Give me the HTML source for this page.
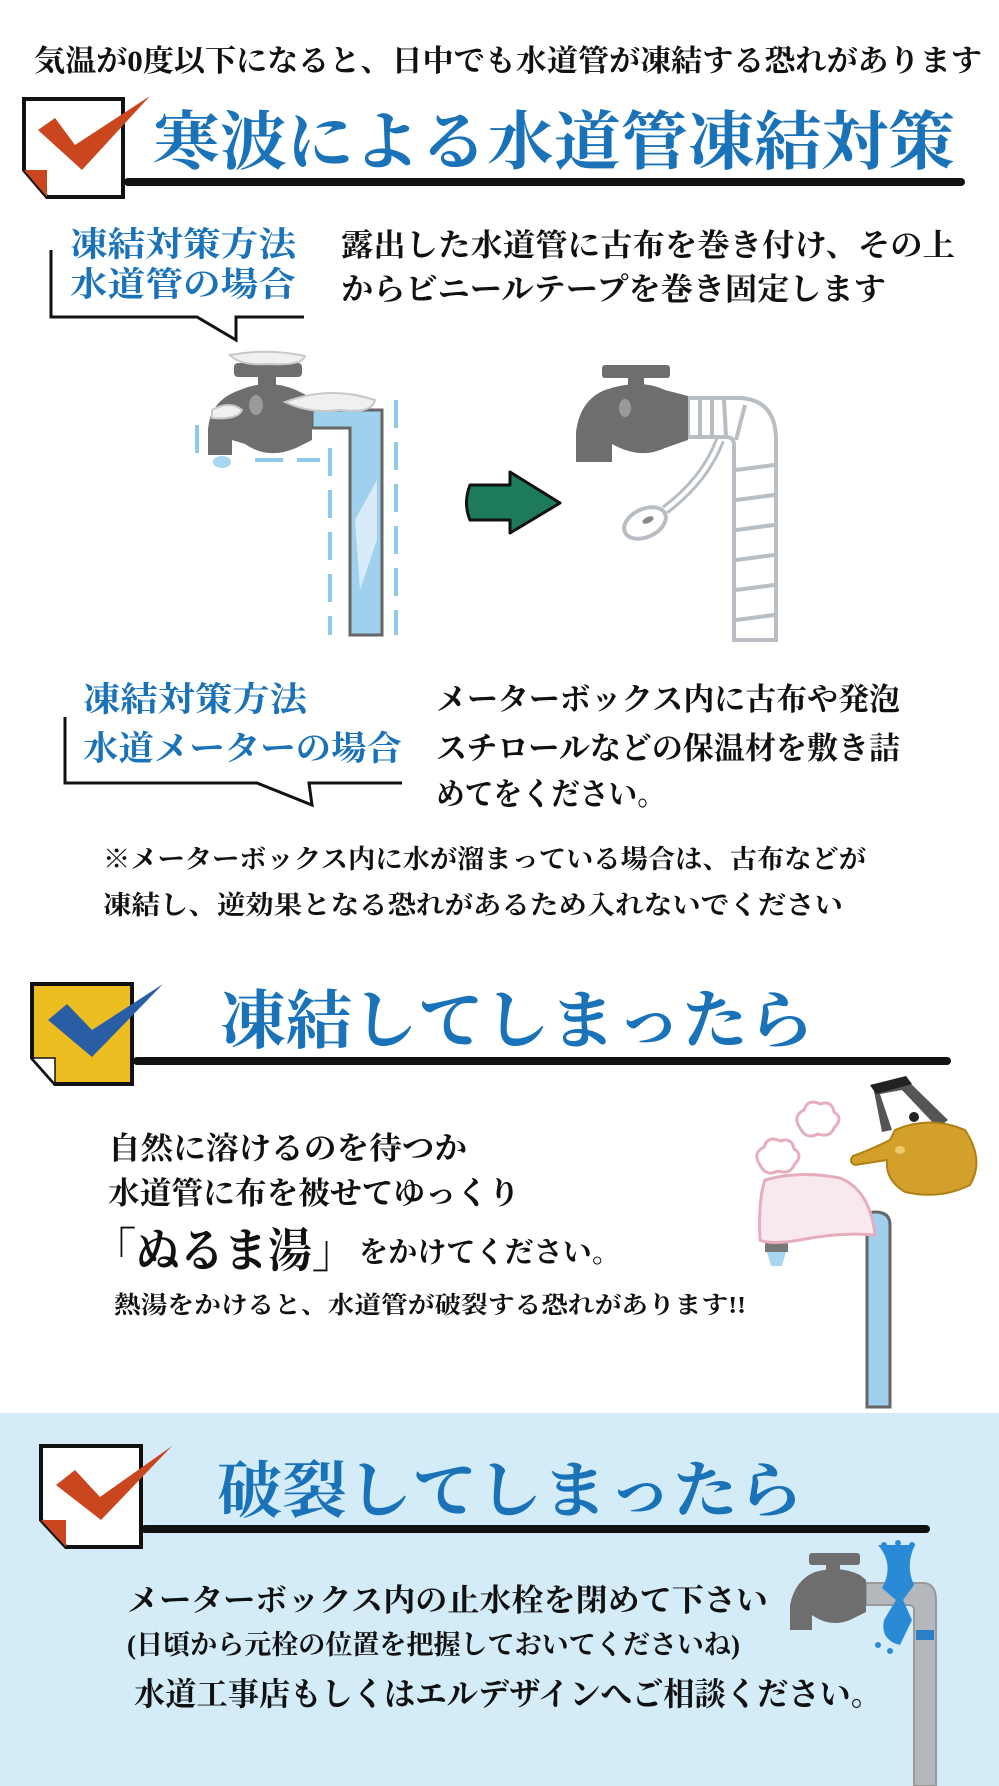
<!DOCTYPE html>
<html><head><meta charset="utf-8"><style>
html,body{margin:0;padding:0;background:#fff}
svg{display:block}
text{font-family:"Liberation Serif","Noto Serif CJK JP",serif;font-weight:bold}
</style></head><body>
<svg width="999" height="1786" viewBox="0 0 999 1786" xmlns="http://www.w3.org/2000/svg">
<rect x="0" y="0" width="999" height="1786" fill="#fff"/>
<rect x="0" y="1413" width="999" height="373" fill="#d3ecf8"/>

<!-- top text -->
<text x="34" y="71" font-size="30" textLength="948" lengthAdjust="spacingAndGlyphs" fill="#111">気温が0度以下になると、日中でも水道管が凍結する恐れがあります</text>

<!-- header 1 -->
<rect x="124" y="178" width="841" height="8" rx="4" fill="#111"/>
<path d="M24 99 H123 V197 H47 L24 170 Z" fill="#fff" stroke="#111" stroke-width="4"/>
<path d="M24 170 L47 170 L47 197 Z" fill="#c9461e"/>
<path d="M38 130 L55 118 L75 145 L150 96 L82 170 Z" fill="#c9461e"/>
<text x="153" y="164" font-size="64" textLength="802" lengthAdjust="spacingAndGlyphs" fill="#1a72b8">寒波による水道管凍結対策</text>

<!-- bubble 1 -->
<path d="M51 250 V317 H197 L236 340 V317 H304" fill="none" stroke="#111" stroke-width="3"/>
<text x="70" y="256" font-size="34" textLength="226" lengthAdjust="spacingAndGlyphs" fill="#1a72b8">凍結対策方法</text>
<text x="70" y="296" font-size="34" textLength="226" lengthAdjust="spacingAndGlyphs" fill="#1a72b8">水道管の場合</text>
<text x="341" y="256" font-size="31" textLength="614" lengthAdjust="spacingAndGlyphs" fill="#111">露出した水道管に古布を巻き付け、その上</text>
<text x="341" y="300" font-size="31" textLength="545" lengthAdjust="spacingAndGlyphs" fill="#111">からビニールテープを巻き固定します</text>

<!-- frozen faucet -->
<g>
<path d="M312 410 H382 V635 H350 V428 H312 Z" fill="#9fd0ee" stroke="#666" stroke-width="3"/>
<path d="M355 520 L377 480 V540 L360 590 Z" fill="#d7ecf8"/>
<rect x="234" y="363" width="68" height="14" rx="4" fill="#6e6e6e"/>
<rect x="258" y="375" width="18" height="14" fill="#6e6e6e"/>
<path d="M240 390 Q268 378 296 390 L312 398 V440 L296 448 Q268 460 245 444 L232 440 V455 H208 V430 Q210 400 240 390 Z" fill="#6e6e6e"/>
<ellipse cx="256" cy="405" rx="7" ry="10" fill="#9a9a9a"/>
<path d="M230 355 Q268 348 305 356 Q302 366 268 364 Q240 366 230 355 Z" fill="#eef0f2" stroke="#c8c8c8" stroke-width="2"/>
<path d="M285 402 Q330 385 375 400 Q372 414 340 410 Q310 414 285 402 Z" fill="#eef0f2" stroke="#c8c8c8" stroke-width="2"/>
<path d="M212 410 Q230 400 242 410 Q238 420 212 418 Z" fill="#eef0f2" stroke="#c8c8c8" stroke-width="2"/>
<ellipse cx="222" cy="462" rx="9" ry="6" fill="#a8d6f0"/>
<g stroke="#8ec8ea" stroke-width="4" stroke-dasharray="28 14" fill="none">
<path d="M396 400 V635"/><path d="M330 448 V635"/><path d="M197 425 V460"/><path d="M255 460 H320"/>
</g>
</g>

<!-- arrow -->
<path d="M470 485 H510 V472 L560 503 L510 533 V520 H470 Q463 503 470 485 Z" fill="#1d7b5c" stroke="#111" stroke-width="3" stroke-linejoin="round"/>

<!-- wrapped faucet -->
<g>
<path d="M688 398 H740 Q776 400 776 440 V640 H734 V445 Q734 437 726 437 H688 Z" fill="#fff" stroke="#b8bec4" stroke-width="4"/>
<g stroke="#b8bec4" stroke-width="4">
<line x1="736" y1="470" x2="774" y2="465"/><line x1="736" y1="500" x2="774" y2="495"/><line x1="736" y1="530" x2="774" y2="525"/><line x1="736" y1="560" x2="774" y2="555"/><line x1="736" y1="590" x2="774" y2="585"/><line x1="736" y1="620" x2="774" y2="615"/>
<line x1="700" y1="400" x2="700" y2="436"/><line x1="712" y1="400" x2="712" y2="436"/><line x1="724" y1="400" x2="726" y2="436"/><line x1="745" y1="405" x2="736" y2="440"/>
</g>
<path d="M720 440 Q705 480 665 510" fill="none" stroke="#b8bec4" stroke-width="10"/>
<path d="M720 440 Q705 480 665 510" fill="none" stroke="#fff" stroke-width="4"/>
<ellipse cx="645" cy="523" rx="22" ry="14" transform="rotate(-25 645 523)" fill="#fff" stroke="#b8bec4" stroke-width="4"/>
<ellipse cx="648" cy="520" rx="6" ry="3" transform="rotate(-25 648 520)" fill="#888"/>
<rect x="602" y="365" width="68" height="13" rx="3" fill="#6e6e6e"/>
<rect x="628" y="376" width="16" height="12" fill="#6e6e6e"/>
<path d="M605 390 Q640 378 665 390 L688 396 V440 L665 448 Q640 460 612 444 V462 H576 V432 Q580 400 605 390 Z" fill="#6e6e6e"/>
<ellipse cx="625" cy="408" rx="6" ry="9" fill="#9a9a9a"/>
</g>

<!-- bubble 2 -->
<path d="M65 717 V783 H257 L312 805 L309 783 H402" fill="none" stroke="#111" stroke-width="3"/>
<text x="83" y="711" font-size="34" textLength="224" lengthAdjust="spacingAndGlyphs" fill="#1a72b8">凍結対策方法</text>
<text x="83" y="760" font-size="34" textLength="319" lengthAdjust="spacingAndGlyphs" fill="#1a72b8">水道メーターの場合</text>
<text x="436" y="710" font-size="31" textLength="464" lengthAdjust="spacingAndGlyphs" fill="#111">メーターボックス内に古布や発泡</text>
<text x="436" y="759" font-size="31" textLength="464" lengthAdjust="spacingAndGlyphs" fill="#111">スチロールなどの保温材を敷き詰</text>
<text x="436" y="805" font-size="31" textLength="230" lengthAdjust="spacingAndGlyphs" fill="#111">めてをください。</text>
<text x="103" y="868" font-size="26" textLength="763" lengthAdjust="spacingAndGlyphs" fill="#111">※メーターボックス内に水が溜まっている場合は、古布などが</text>
<text x="103" y="914" font-size="26" textLength="740" lengthAdjust="spacingAndGlyphs" fill="#111">凍結し、逆効果となる恐れがあるため入れないでください</text>

<!-- header 2 -->
<rect x="133" y="1057" width="818" height="8" rx="4" fill="#111"/>
<path d="M32 984 H132 V1084 H55 L32 1058 Z" fill="#ecbe22" stroke="#111" stroke-width="4"/>
<path d="M32 1058 L55 1058 L55 1084 Z" fill="#fff" stroke="#111" stroke-width="1.5"/>
<path d="M48 1020 L67 1004 L92 1030 L163 984 L92 1057 Z" fill="#2a5ea4"/>
<text x="220" y="1043" font-size="64" textLength="594" lengthAdjust="spacingAndGlyphs" fill="#1a72b8">凍結してしまったら</text>

<text x="108" y="1159" font-size="31" textLength="359" lengthAdjust="spacingAndGlyphs" fill="#111">自然に溶けるのを待つか</text>
<text x="108" y="1204" font-size="31" textLength="412" lengthAdjust="spacingAndGlyphs" fill="#111">水道管に布を被せてゆっくり</text>
<text x="92" y="1267" font-size="47" textLength="264" lengthAdjust="spacingAndGlyphs" fill="#111">「ぬるま湯」</text>
<text x="359" y="1262" font-size="29" textLength="262" lengthAdjust="spacingAndGlyphs" fill="#111">をかけてください。</text>
<text x="114" y="1313" font-size="24" textLength="632" lengthAdjust="spacingAndGlyphs" fill="#111">熱湯をかけると、水道管が破裂する恐れがあります!!</text>

<!-- kettle illustration -->
<g>
<path d="M867 1218 Q867 1212 875 1212 Q890 1212 890 1225 V1407 H867 Z" fill="#9fd0ee" stroke="#666" stroke-width="3"/>
<rect x="765" y="1240" width="23" height="12" fill="#777"/>
<path d="M767 1252 H786 L782 1266 H771 Z" fill="#a8d6f0"/>
<path d="M765 1180 Q800 1170 840 1178 Q870 1190 875 1235 Q840 1232 800 1240 Q770 1245 760 1240 Q758 1200 765 1180 Z" fill="#f8e9ee" stroke="#e6aebb" stroke-width="3"/>
<path d="M760 1165 q-8 -12 4 -18 q4 -12 16 -6 q12 -4 14 8 q10 6 0 16 q-4 10 -16 6 q-12 6 -18 -6 Z" fill="#fff" stroke="#e6aebb" stroke-width="3"/>
<path d="M800 1128 q-8 -12 4 -18 q4 -12 16 -6 q12 -4 14 8 q10 6 0 16 q-4 10 -16 6 q-12 6 -18 -6 Z" fill="#fff" stroke="#e6aebb" stroke-width="3"/>
<path d="M873 1086 L905 1078 L948 1120 L938 1128 L902 1090 L880 1094 L892 1130 L882 1132 Z" fill="#555"/>
<path d="M870 1085 L906 1076 L912 1084 L876 1094 Z" fill="#222"/>
<path d="M895 1130 Q930 1115 965 1130 Q985 1160 970 1185 Q940 1200 905 1192 Q885 1180 887 1160 L855 1165 Q848 1162 853 1156 Q870 1150 890 1140 Z" fill="#d4a02c" stroke="#b07f16" stroke-width="2"/>
<circle cx="914" cy="1117" r="5" fill="#222"/>
<ellipse cx="900" cy="1150" rx="5" ry="4" fill="#ecc96a"/>
</g>

<!-- header 3 -->
<rect x="141" y="1525" width="789" height="8" rx="4" fill="#111"/>
<path d="M41 1446 H141 V1547 H66 L41 1520 Z" fill="#fff" stroke="#111" stroke-width="4"/>
<path d="M41 1520 L66 1520 L66 1547 Z" fill="#c9461e"/>
<path d="M56 1485 L75 1470 L100 1497 L172 1446 L101 1520 Z" fill="#c9461e"/>
<text x="217" y="1512" font-size="62" textLength="586" lengthAdjust="spacingAndGlyphs" fill="#1a72b8">破裂してしまったら</text>

<text x="127" y="1611" font-size="31" textLength="641" lengthAdjust="spacingAndGlyphs" fill="#111">メーターボックス内の止水栓を閉めて下さい</text>
<text x="127" y="1654" font-size="27" textLength="613" lengthAdjust="spacingAndGlyphs" fill="#111">(日頃から元栓の位置を把握しておいてくださいね)</text>
<text x="134" y="1705" font-size="32" textLength="748" lengthAdjust="spacingAndGlyphs" fill="#111">水道工事店もしくはエルデザインへご相談ください。</text>

<!-- burst faucet -->
<g>
<path d="M866 1583 H925 Q936 1585 936 1600 V1786 H914 V1610 Q914 1605 908 1605 H866 Z" fill="#b4b8bd" stroke="#999" stroke-width="2"/>
<path d="M916 1630 H934 V1640 H916 Z" fill="#2a7fc8"/>
<rect x="809" y="1553" width="51" height="12" rx="3" fill="#6e6e6e"/>
<rect x="826" y="1563" width="14" height="10" fill="#6e6e6e"/>
<path d="M815 1572 Q840 1565 860 1575 L866 1580 V1612 L850 1620 Q830 1628 812 1615 V1630 H790 V1605 Q795 1580 815 1572 Z" fill="#6e6e6e"/>
<path d="M878 1545 Q895 1565 882 1588 L896 1600 L884 1620 Q880 1640 900 1645 L912 1620 L903 1600 L914 1585 Q905 1565 915 1545 Z" fill="#2a8ad6"/>
<circle cx="884" cy="1545" r="3" fill="#2a8ad6"/><circle cx="898" cy="1543" r="3" fill="#2a8ad6"/><circle cx="912" cy="1545" r="3" fill="#2a8ad6"/>
<circle cx="878" cy="1645" r="3" fill="#2a8ad6"/><circle cx="890" cy="1651" r="3" fill="#2a8ad6"/>
</g>
</svg>
</body></html>
